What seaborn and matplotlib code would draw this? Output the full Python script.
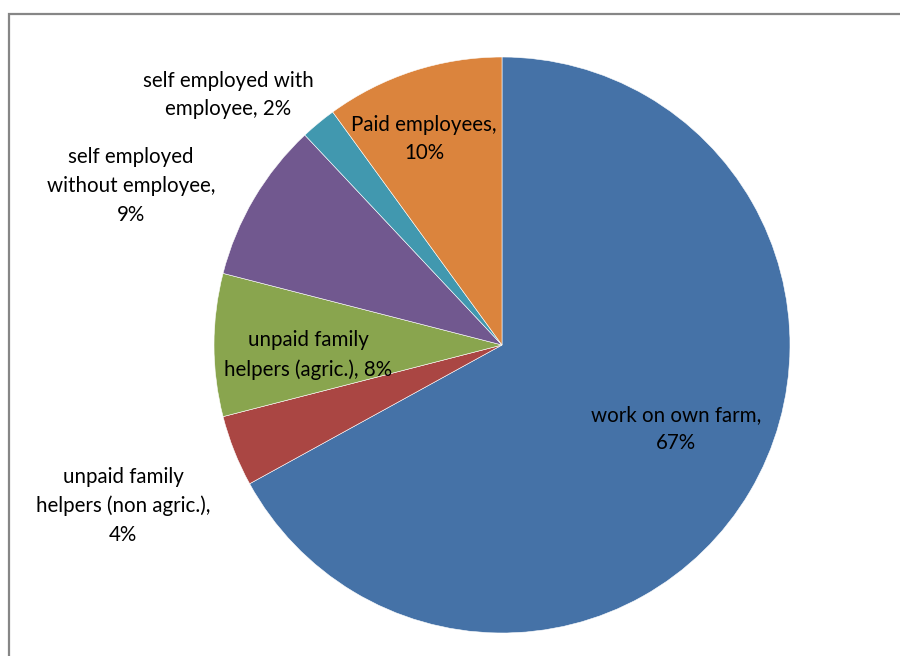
import matplotlib
matplotlib.use("Agg")
import matplotlib.pyplot as plt
from matplotlib.patches import Rectangle
import seaborn as sns

categories = ["work on own farm", "unpaid family\nhelpers (non agric.)", "unpaid family\nhelpers (agric.)",
              "self employed\nwithout employee", "self employed with\nemployee", "Paid employees"]
values = [67, 4, 8, 9, 2, 10]
colors = ["#4572A7", "#AA4643", "#89A54E", "#71588F", "#4198AF", "#DB843D"]

label_texts = ["work on own farm,\n67%",
               "unpaid family\nhelpers (non agric.),\n4%",
               "unpaid family\nhelpers (agric.), 8%",
               "self employed\nwithout employee,\n9%",
               "self employed with\nemployee, 2%",
               "Paid employees,\n10%"]
# label centres in pixel coordinates of the figure (x from left, y from top)
label_px = [(676, 429), (123, 506), (308, 355), (131, 186), (228, 95), (424, 139)]

sns.set_theme(style="white")
plt.rcParams['font.family'] = ['Lato', 'DejaVu Sans']

W, H = 900, 656
fig = plt.figure(figsize=(W / 100, H / 100), dpi=100)
fig.patch.set_facecolor("white")

cx, cy, r = 502, 345, 288
ax = fig.add_axes([(cx - r) / W, (H - cy - r) / H, 2 * r / W, 2 * r / H])
pal = sns.color_palette(colors)
ax.pie(values, colors=pal, startangle=90, counterclock=False,
       wedgeprops=dict(edgecolor="white", linewidth=0.4))
ax.set_xlim(-1, 1)
ax.set_ylim(-1, 1)
ax.set_aspect("equal")
ax.axis("off")

for txt, (px, py) in zip(label_texts, label_px):
    fig.text(px / W, 1 - py / H, txt, ha="center", va="center", fontsize=14.8,
             color="black", linespacing=1.55)

border = Rectangle((8.5 / W, -0.05), 1.2, 1 - 13.5 / H + 0.05, transform=fig.transFigure,
                   fill=False, edgecolor="#868686", linewidth=1.6)
fig.patches.append(border)

fig.savefig("out.png", dpi=100, facecolor="white")
